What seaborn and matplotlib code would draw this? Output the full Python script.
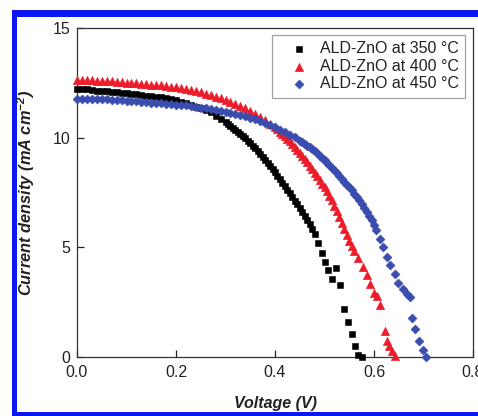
import matplotlib
matplotlib.use("Agg")
import matplotlib.pyplot as plt
import seaborn as sns
import pandas as pd
from matplotlib.patches import Rectangle

# ---------------- data ----------------
labels = ["ALD-ZnO at 350 °C", "ALD-ZnO at 400 °C", "ALD-ZnO at 450 °C"]

v_350 = [0.00, 0.01, 0.02, 0.03, 0.04, 0.05, 0.06, 0.07, 0.08, 0.09,
         0.10, 0.11, 0.12, 0.13, 0.14, 0.15, 0.16, 0.17, 0.18, 0.19,
         0.20, 0.21, 0.22, 0.23, 0.24, 0.25, 0.26, 0.27, 0.28, 0.29,
         0.300, 0.305, 0.310, 0.315, 0.320, 0.325, 0.330, 0.335, 0.340, 0.345,
         0.350, 0.355, 0.360, 0.365, 0.370, 0.375, 0.380, 0.385, 0.390, 0.395,
         0.400, 0.405, 0.410, 0.415, 0.420, 0.425, 0.430, 0.435, 0.440, 0.445,
         0.450, 0.455, 0.460, 0.465, 0.470, 0.475, 0.480,
         0.487, 0.494, 0.501, 0.508, 0.524, 0.515, 0.531, 0.539, 0.548,
         0.555, 0.562, 0.568, 0.575]
j_350 = [12.20, 12.20, 12.20, 12.18, 12.15, 12.15, 12.12, 12.10, 12.08, 12.05,
         12.02, 12.00, 11.98, 11.95, 11.92, 11.90, 11.87, 11.84, 11.80, 11.75,
         11.70, 11.63, 11.56, 11.49, 11.41, 11.33, 11.24, 11.15, 10.98, 10.85,
         10.70, 10.62, 10.54, 10.45, 10.36, 10.27, 10.18, 10.08, 9.98, 9.87,
         9.76, 9.64, 9.52, 9.40, 9.27, 9.14, 9.00, 8.86, 8.72, 8.57,
         8.42, 8.27, 8.11, 7.95, 7.79, 7.63, 7.47, 7.29, 7.13, 6.97,
         6.80, 6.63, 6.45, 6.25, 6.05, 5.84, 5.62,
         5.20, 4.75, 4.35, 3.95, 4.05, 3.55, 3.27, 2.17, 1.58,
         1.06, 0.48, 0.08, 0.00]

v_400 = [0.00, 0.01, 0.02, 0.03, 0.04, 0.05, 0.06, 0.07, 0.08, 0.09,
         0.10, 0.11, 0.12, 0.13, 0.14, 0.15, 0.16, 0.17, 0.18, 0.19,
         0.20, 0.21, 0.22, 0.23, 0.24, 0.25, 0.26, 0.27, 0.28, 0.29,
         0.30, 0.31, 0.32, 0.33, 0.34, 0.35, 0.36, 0.37, 0.38, 0.39,
         0.400, 0.405, 0.410, 0.415, 0.420, 0.425, 0.430, 0.435, 0.440, 0.445,
         0.450, 0.455, 0.460, 0.465, 0.470, 0.475, 0.480, 0.485, 0.490, 0.495,
         0.500, 0.505, 0.510, 0.515, 0.520, 0.525, 0.530, 0.535, 0.540, 0.545,
         0.550, 0.555, 0.560, 0.568, 0.577, 0.585,
         0.592, 0.599, 0.606, 0.613, 0.622, 0.627, 0.631, 0.637, 0.643]
j_400 = [12.62, 12.62, 12.62, 12.62, 12.60, 12.60, 12.58, 12.58, 12.56, 12.52,
         12.50, 12.50, 12.48, 12.46, 12.44, 12.42, 12.40, 12.38, 12.35, 12.32,
         12.30, 12.27, 12.23, 12.18, 12.13, 12.07, 12.01, 11.94, 11.87, 11.80,
         11.72, 11.63, 11.55, 11.45, 11.34, 11.22, 11.09, 10.95, 10.80, 10.64,
         10.47, 10.38, 10.28, 10.18, 10.07, 9.96, 9.84, 9.72, 9.59, 9.46,
         9.32, 9.18, 9.03, 8.88, 8.73, 8.57, 8.41, 8.25, 8.08, 7.91,
         7.73, 7.55, 7.36, 7.14, 6.90, 6.64, 6.37, 6.09, 5.82, 5.55,
         5.28, 5.06, 4.85, 4.50, 4.10, 3.73,
         3.35, 2.92, 2.78, 2.36, 1.20, 0.75, 0.50, 0.28, 0.05]

v_450 = [0.00, 0.01, 0.02, 0.03, 0.04, 0.05, 0.06, 0.07, 0.08, 0.09,
         0.10, 0.11, 0.12, 0.13, 0.14, 0.15, 0.16, 0.17, 0.18, 0.19,
         0.20, 0.21, 0.22, 0.23, 0.24, 0.25, 0.26, 0.27, 0.28, 0.29,
         0.30, 0.31, 0.32, 0.33, 0.34, 0.35, 0.36, 0.37, 0.38, 0.39,
         0.40, 0.41, 0.42, 0.43, 0.44,
         0.450, 0.455, 0.460, 0.465, 0.470, 0.475, 0.480, 0.485, 0.490, 0.495,
         0.500, 0.505, 0.510, 0.515, 0.520, 0.525, 0.530, 0.535, 0.540, 0.545,
         0.550, 0.555, 0.560, 0.565, 0.570, 0.575, 0.580, 0.585, 0.590, 0.595,
         0.600, 0.605, 0.612, 0.619, 0.626, 0.633, 0.642, 0.649, 0.659,
         0.666, 0.673, 0.676, 0.683, 0.690, 0.698, 0.706]
j_450 = [11.78, 11.78, 11.78, 11.77, 11.76, 11.76, 11.75, 11.74, 11.72, 11.70,
         11.68, 11.66, 11.65, 11.64, 11.62, 11.60, 11.58, 11.56, 11.55, 11.53,
         11.51, 11.49, 11.47, 11.44, 11.40, 11.36, 11.33, 11.29, 11.25, 11.22,
         11.18, 11.14, 11.10, 11.05, 10.98, 10.91, 10.83, 10.75, 10.66, 10.57,
         10.47, 10.37, 10.26, 10.14, 10.01,
         9.87, 9.80, 9.72, 9.64, 9.56, 9.47, 9.38, 9.28, 9.18, 9.08,
         8.97, 8.86, 8.75, 8.63, 8.51, 8.38, 8.25, 8.12, 7.98, 7.86,
         7.74, 7.60, 7.45, 7.30, 7.14, 6.98, 6.80, 6.62, 6.43, 6.23,
         6.02, 5.80, 5.40, 5.00, 4.58, 4.20, 3.80, 3.38, 3.10,
         2.88, 2.72, 1.80, 1.27, 0.75, 0.33, 0.02]

x_ticks = [0.0, 0.2, 0.4, 0.6, 0.8]
x_ticklabels = ["0.0", "0.2", "0.4", "0.6", "0.8"]
y_ticks = [0, 5, 10, 15]
y_ticklabels = ["0", "5", "10", "15"]

colors = ["#000000", "#EC1C2A", "#3A4DAE"]
markers = ["s", "^", "D"]
msizes = [25, 36, 21]

# ---------------- figure ----------------
sns.set_theme(style="ticks")
plt.rcParams["font.family"] = ["Liberation Sans", "DejaVu Sans"]
plt.rcParams["mathtext.fontset"] = "custom"
plt.rcParams["mathtext.rm"] = "Liberation Sans:bold:italic"
plt.rcParams["mathtext.it"] = "Liberation Sans:bold:italic"
plt.rcParams["mathtext.bf"] = "Liberation Sans:bold:italic"

fig = plt.figure(figsize=(4.78, 4.16), dpi=100)
W, H = 478, 416

# blue frame around the picture
fig.patches.append(Rectangle((12 / W, 0), 1.0, (H - 10) / H, transform=fig.transFigure,
                             facecolor="#0B16F2", edgecolor="none", zorder=-2))
fig.patches.append(Rectangle((17 / W, 4 / H), 1.0, (H - 17 - 4) / H, transform=fig.transFigure,
                             facecolor="white", edgecolor="none", zorder=-1))

ax = fig.add_axes([77 / W, (H - 357) / H, 396 / W, 329 / H])
ax.set_zorder(2)
ax.set_facecolor("none")

series = [(v_350, j_350), (v_400, j_400), (v_450, j_450)]
for (v, j), lab, c, m, s in zip(series, labels, colors, markers, msizes):
    df = pd.DataFrame({"Voltage": v, "J": j})
    sns.scatterplot(data=df, x="Voltage", y="J", ax=ax, color=c, marker=m,
                    s=s, linewidth=0.4, edgecolor=c, label=lab, zorder=3,
                    clip_on=False)

ax.set_xlim(0, 0.8)
ax.set_ylim(0, 15)
ax.set_xticks(x_ticks)
ax.set_xticklabels(x_ticklabels)
ax.set_yticks(y_ticks)
ax.set_yticklabels(y_ticklabels)
ax.tick_params(direction="in", length=5, width=0.9, labelsize=11.5, colors="#222222",
               pad=6)
ax.tick_params(axis="y", pad=5)
for sp in ax.spines.values():
    sp.set_visible(True)
    sp.set_linewidth(0.9)
    sp.set_color("#333333")

ax.set_xlabel("Voltage (V)", fontsize=11.5, fontweight="bold", fontstyle="italic",
              color="#222222")
ax.set_ylabel("Current density (mA cm$^{-2}$)", fontsize=11.8, fontweight="bold",
              fontstyle="italic", color="#222222")
ax.xaxis.set_label_coords(0.5, (357 - 396) / 329, transform=ax.transAxes)
ax.yaxis.set_label_coords((37 - 77) / 396, 0.5, transform=ax.transAxes)

handles, labs = ax.get_legend_handles_labels()
leg = ax.legend(handles, labs, loc="upper right",
                bbox_to_anchor=((465 - 77) / 396, (357 - 35) / 329),
                borderaxespad=0, frameon=True, fancybox=False, fontsize=11.5,
                borderpad=0.4, handlelength=2.5, handletextpad=0.05,
                labelspacing=0.15, markerscale=1.0)
leg.get_frame().set_edgecolor("#8a8a8a")
leg.get_frame().set_linewidth(0.9)
for t in leg.get_texts():
    t.set_color("#222222")

fig.savefig("out.png", dpi=100)
